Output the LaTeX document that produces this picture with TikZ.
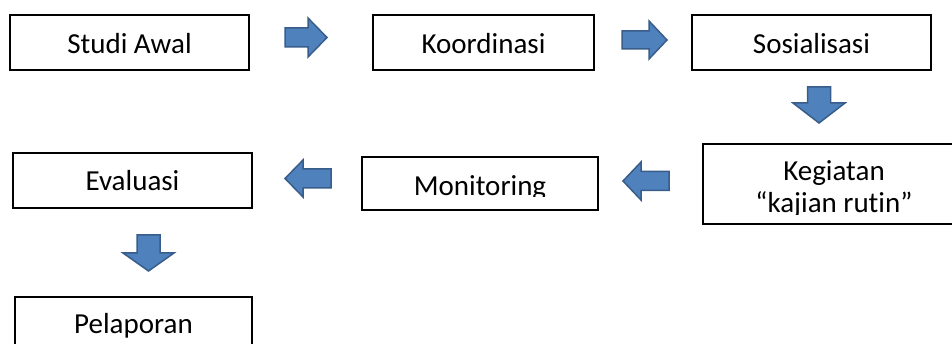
\documentclass[tikz,border=0pt]{standalone}
\usepackage{fontspec}
\setmainfont{Carlito}[Ligatures=NoCommon]
\definecolor{isipanah}{HTML}{4F81BD}
\definecolor{tepipanah}{HTML}{385D8A}
\tikzset{
	kotak/.style={draw,line width=2pt,inner sep=0pt,minimum height=55pt},
	teks/.style={anchor=base,inner sep=0pt,font=\fontsize{29}{32}\selectfont},
	blokpanah/.style={fill=isipanah,draw=tepipanah,line width=1.5pt,line join=miter}
}
\begin{document}
\begin{tikzpicture}[x=1pt,y=-1pt]
			
			\clip (0,0) rectangle (952,344);
			\useasboundingbox (0,0) rectangle (952,344);
			% kotak
			\node[kotak,minimum width=239pt] (studi) at (129.5,42.5) {};
			\node[kotak,minimum width=221pt] (koordinasi) at (483.5,42.5) {};
			\node[kotak,minimum width=239pt] (sosialisasi) at (811.5,42.5) {};
			\node[kotak,minimum width=262pt,minimum height=80pt] (kegiatan) at (834,184) {};
			\node[kotak,minimum width=236pt,minimum height=53pt] (monitoring) at (480,183.5) {};
			\node[kotak,minimum width=239pt] (evaluasi) at (132.5,180.5) {};
			\node[kotak,minimum width=237pt] (pelaporan) at (133.5,324.5) {};
			% teks
			\node[teks] (tstudi) at ([yshift=-40pt]studi.north) {Studi Awal};
			\node[teks] (tkoordinasi) at ([yshift=-40pt]koordinasi.north) {Koordinasi};
			\node[teks] (tsosialisasi) at ([yshift=-40pt]sosialisasi.north) {Sosialisasi};
			\node[teks] (tevaluasi) at ([yshift=-39pt]evaluasi.north) {Evaluasi};
			\node[teks] (tpelaporan) at ([yshift=-38pt]pelaporan.north) {Pelaporan};
			\begin{scope}
				\clip (monitoring.north west) rectangle ([yshift=-41pt]monitoring.north east);
				\node[teks] (tmonitoring) at ([yshift=-40pt]monitoring.north) {Monitoring};
			\end{scope}
			\begin{scope}
				\clip (kegiatan.north west) rectangle ([yshift=-71.5pt]kegiatan.north east);
				\node[teks] (tkegiatan) at ([yshift=-38pt]kegiatan.north) {Kegiatan};
				\node[teks] (tkajian) at ([yshift=-70pt]kegiatan.north) {“kajian rutin”};
			\end{scope}
			% panah blok
			\foreach \x/\y/\rot/\len/\lebar/\batang/\kepala in {
				306/37.5/0/42/39/19/19,
				644.5/40/0/45/38/18/18,
				819/105/-90/36/52/23/20,
				646/181/180/46/38/19/18,
				308/178.5/180/46/37/19/18,
				148.5/253/-90/36/51/23/18}
			\draw[blokpanah,shift={(\x,\y)},rotate=\rot] (-\len/2,-\batang/2) -- ({\len/2-\kepala},-\batang/2) -- ({\len/2-\kepala},-\lebar/2) -- (\len/2,0) -- ({\len/2-\kepala},\lebar/2) -- ({\len/2-\kepala},\batang/2) -- (-\len/2,\batang/2) -- cycle;
			
\end{tikzpicture}
\end{document}
